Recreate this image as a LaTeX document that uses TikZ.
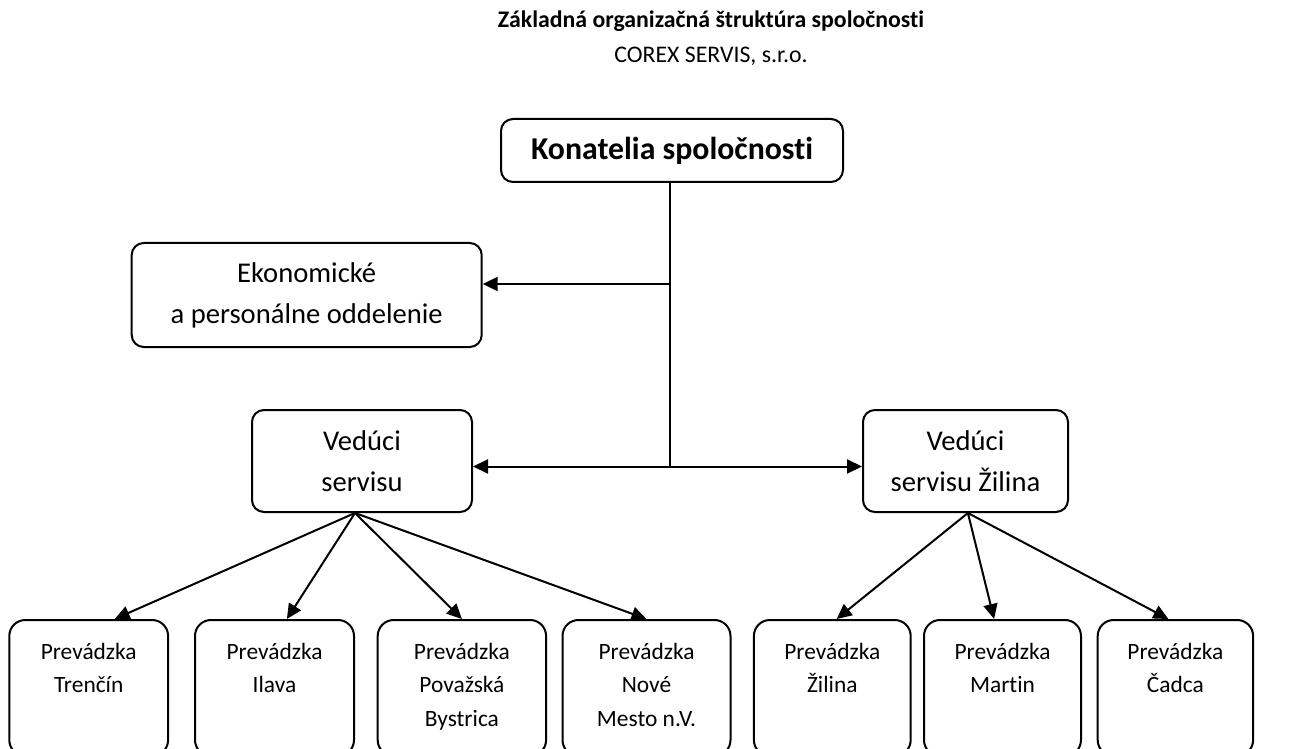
\documentclass[tikz,border=0pt]{standalone}
\usepackage{fontspec}
\setmainfont{Carlito}[Ligatures=NoCommon]
\usepackage{tikz}
\usetikzlibrary{arrows.meta,positioning}

\tikzset{
	box/.style={draw=black,line width=1pt,rounded corners=6pt,fill=white,align=center,inner sep=0pt},
	unit/.style={draw=black,line width=1pt,rounded corners=8pt,minimum height=68pt,inner sep=0pt},
	unitlabel/.style={align=center,inner sep=0pt,font=\fontsize{11.7}{16.6}\selectfont},
	midtext/.style={font=\fontsize{14.3}{20.5}\selectfont},
	link/.style={line width=1pt,-{Triangle[length=7.5pt,width=7pt]}}
}

\begin{document}
\begin{tikzpicture}[x=0.5pt,y=-0.5pt]
		\useasboundingbox (0,0) rectangle (1303,749);
		\clip (0,0) rectangle (1303,749);
		\path[fill=white] (0,0) rectangle (1303,749);
		
		% header
		\node[anchor=base,font=\fontsize{11.9}{14}\selectfont\bfseries] (title) at (711,28) {Základná organizačná štruktúra spoločnosti};
		\node[anchor=base,font=\fontsize{11.9}{14}\selectfont] (subtitle) at (711,63) {COREX SERVIS, s.r.o.};
		
		% management
		\node[box,minimum width=171pt,minimum height=31.5pt,font=\fontsize{15.9}{19}\selectfont\bfseries] (kon) at (672,150.5) {Konatelia spoločnosti};
		\node[box,midtext,minimum width=175pt,minimum height=52pt] (eko) at (306.7,295) {Ekonomické\\a personálne oddelenie};
		\node[box,midtext,minimum width=110pt,minimum height=51pt] (vs) at (362,461) {Vedúci\\servisu};
		\node[box,midtext,minimum width=102.5pt,minimum height=51pt] (vz) at (965.5,461) {Vedúci\\servisu Žilina};
		
		% branches
		\node[unit,minimum width=79.4pt] (p1) at (88.7,688) {};
		\node[unit,minimum width=79.5pt] (p2) at (274.5,688) {};
		\node[unit,minimum width=84.2pt] (p3) at (461.9,688) {};
		\node[unit,minimum width=84pt] (p4) at (646.5,688) {};
		\node[unit,minimum width=78.4pt] (z1) at (832.3,688) {};
		\node[unit,minimum width=78.5pt] (z2) at (1002.5,688) {};
		\node[unit,minimum width=77.7pt] (z3) at (1175.4,688) {};
		
		\node[unitlabel,below=12pt of p1.north] (p1t) {Prevádzka\\Trenčín};
		\node[unitlabel,below=12pt of p2.north] (p2t) {Prevádzka\\Ilava};
		\node[unitlabel,below=12pt of p3.north] (p3t) {Prevádzka\\Považská\\Bystrica};
		\node[unitlabel,below=12pt of p4.north] (p4t) {Prevádzka\\Nové\\Mesto n.V.};
		\node[unitlabel,below=12pt of z1.north] (z1t) {Prevádzka\\Žilina};
		\node[unitlabel,below=12pt of z2.north] (z2t) {Prevádzka\\Martin};
		\node[unitlabel,below=12pt of z3.north] (z3t) {Prevádzka\\Čadca};
		
		% connectors
		\coordinate (j1) at (670,284);
		\coordinate (j2) at (670,466.5);
		\draw[line width=1pt] (kon.south -| j1) -- (j2);
		\draw[link] (j1) -- (j1 -| eko.east);
		\draw[link] (j2) -- (j2 -| vs.east);
		\draw[link] (j2) -- (j2 -| vz.west);
		
		\draw[link] ([xshift=-3.5pt]vs.south) -- ([xshift=13pt]p1.north);
		\draw[link] ([xshift=-3.5pt]vs.south) -- ([xshift=6.2pt]p2.north);
		\draw[link] ([xshift=-3.5pt]vs.south) -- (p3.north);
		\draw[link] ([xshift=-3.5pt]vs.south) -- (p4.north);
		\draw[link] ([xshift=1.2pt]vz.south) -- ([xshift=2.2pt]z1.north);
		\draw[link] ([xshift=1.2pt]vz.south) -- ([xshift=-4.2pt]z2.north);
		\draw[link] ([xshift=1.2pt]vz.south) -- ([xshift=-3.5pt]z3.north);
	\end{tikzpicture}
\end{document}
